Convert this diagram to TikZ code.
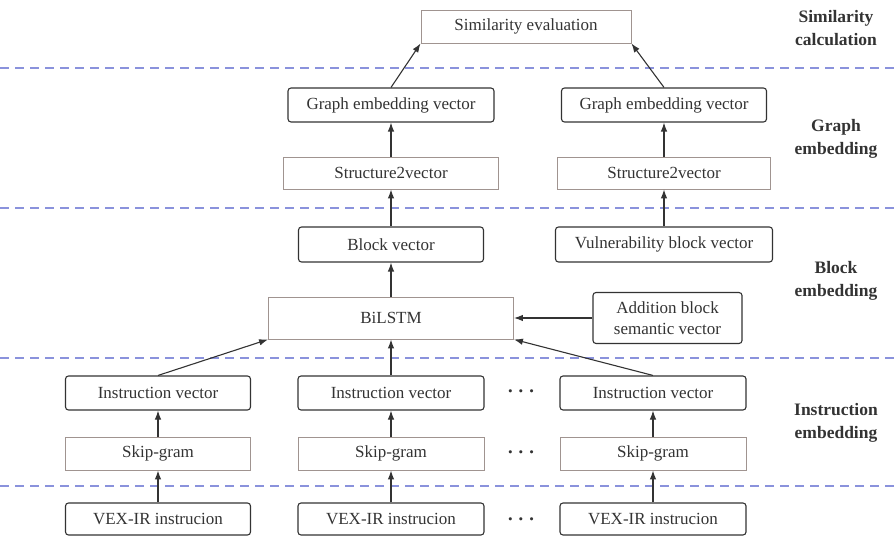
\documentclass[tikz,border=0pt]{standalone}
\usepackage{fontspec}
\setmainfont{Liberation Serif}
\usetikzlibrary{arrows.meta}
\definecolor{inkgray}{HTML}{333333}
\definecolor{procline}{HTML}{A09490}
\definecolor{sepblue}{HTML}{8A92DC}
\begin{document}
\begin{tikzpicture}[x=1pt,y=-1pt,
  every node/.style={font=\fontsize{17}{19}\selectfont, text=inkgray, inner sep=0pt},
  vecbox/.style={draw=inkgray, line width=1.1pt, rounded corners=3pt, minimum height=34pt},
  procbox/.style={draw=procline, line width=0.9pt, minimum height=33pt},
  stage/.style={font=\fontsize{17.5}{23}\selectfont\bfseries, align=center},
  sep/.style={draw=sepblue, line width=1.1pt, dash pattern=on 9pt off 6pt},
  flow/.style={draw=inkgray, line width=1.1pt, -{Latex[length=9pt,width=6.5pt]}},
  dots/.style={font=\fontsize{22}{22}\selectfont\boldmath}]
\useasboundingbox (0,0) rectangle (894,537);

% layer separators
\coordinate (s1a) at (0,68);  \coordinate (s1b) at (894,68);
\coordinate (s2a) at (0,208); \coordinate (s2b) at (894,208);
\coordinate (s3a) at (0,358); \coordinate (s3b) at (894,358);
\coordinate (s4a) at (0,486); \coordinate (s4b) at (894,486);
\draw[sep] (s1a) -- (s1b);
\draw[sep] (s2a) -- (s2b);
\draw[sep] (s3a) -- (s3b);
\draw[sep] (s4a) -- (s4b);

% similarity calculation
\node[procbox, minimum width=210pt] (sim) at (526,26.5) {Similarity evaluation};

% graph embedding
\node[vecbox, minimum width=206pt] (geL) at (391,105) {Graph embedding vector};
\node[vecbox, minimum width=205pt] (geR) at (664,105) {Graph embedding vector};
\node[procbox, minimum width=215pt, minimum height=32pt] (s2vL) at (391,173) {Structure2vector};
\node[procbox, minimum width=213pt, minimum height=32pt] (s2vR) at (664,173) {Structure2vector};

% block embedding
\node[vecbox, minimum width=185pt, minimum height=35pt] (bv) at (391,244.5) {Block vector};
\node[vecbox, minimum width=217pt, minimum height=35pt] (vbv) at (664,244.5) {Vulnerability block vector};
\node[procbox, minimum width=245pt, minimum height=42pt] (bil) at (391,318) {BiLSTM};
\node[vecbox, minimum width=149pt, minimum height=51pt, align=center,
      font=\fontsize{17}{21}\selectfont] (add) at (667.5,318) {Addition block\\semantic vector};

% instruction embedding
\node[vecbox, minimum width=185pt] (iv1) at (158,393) {Instruction vector};
\node[vecbox, minimum width=186pt] (iv2) at (391,393) {Instruction vector};
\node[vecbox, minimum width=186pt] (iv3) at (653,393) {Instruction vector};
\node[procbox, minimum width=185pt] (sg1) at (158,453.5) {Skip-gram};
\node[procbox, minimum width=186pt] (sg2) at (391,453.5) {Skip-gram};
\node[procbox, minimum width=186pt] (sg3) at (653,453.5) {Skip-gram};
\node[vecbox, minimum width=185pt, minimum height=32pt] (vx1) at (158,519) {VEX-IR instrucion};
\node[vecbox, minimum width=186pt, minimum height=32pt] (vx2) at (391,519) {VEX-IR instrucion};
\node[vecbox, minimum width=186pt, minimum height=32pt] (vx3) at (653,519) {VEX-IR instrucion};

\node[dots] (d1) at (521,392) {$\cdots$};
\node[dots] (d2) at (521,453) {$\cdots$};
\node[dots] (d3) at (521,520) {$\cdots$};

% stage labels
\node[stage] (lab1) at (836,28) {Similarity\\calculation};
\node[stage] (lab2) at (836,139) {Graph\\embedding};
\node[stage] (lab3) at (836,281) {Block\\embedding};
\node[stage] (lab4) at (836,423) {Instruction\\embedding};

% connectors
\draw[flow] (geL.north) -- (sim.south west);
\draw[flow] (geR.north) -- (sim.south east);
\draw[flow] (s2vL) -- (geL);
\draw[flow] (s2vR) -- (geR);
\draw[flow] (bv) -- (s2vL);
\draw[flow] (vbv) -- (s2vR);
\draw[flow] (bil) -- (bv);
\draw[flow] (add) -- (bil);
\draw[flow] (iv1.north) -- (bil.south west);
\draw[flow] (iv2) -- (bil);
\draw[flow] (iv3.north) -- (bil.south east);
\draw[flow] (sg1) -- (iv1);
\draw[flow] (sg2) -- (iv2);
\draw[flow] (sg3) -- (iv3);
\draw[flow] (vx1) -- (sg1);
\draw[flow] (vx2) -- (sg2);
\draw[flow] (vx3) -- (sg3);
\end{tikzpicture}
\end{document}
